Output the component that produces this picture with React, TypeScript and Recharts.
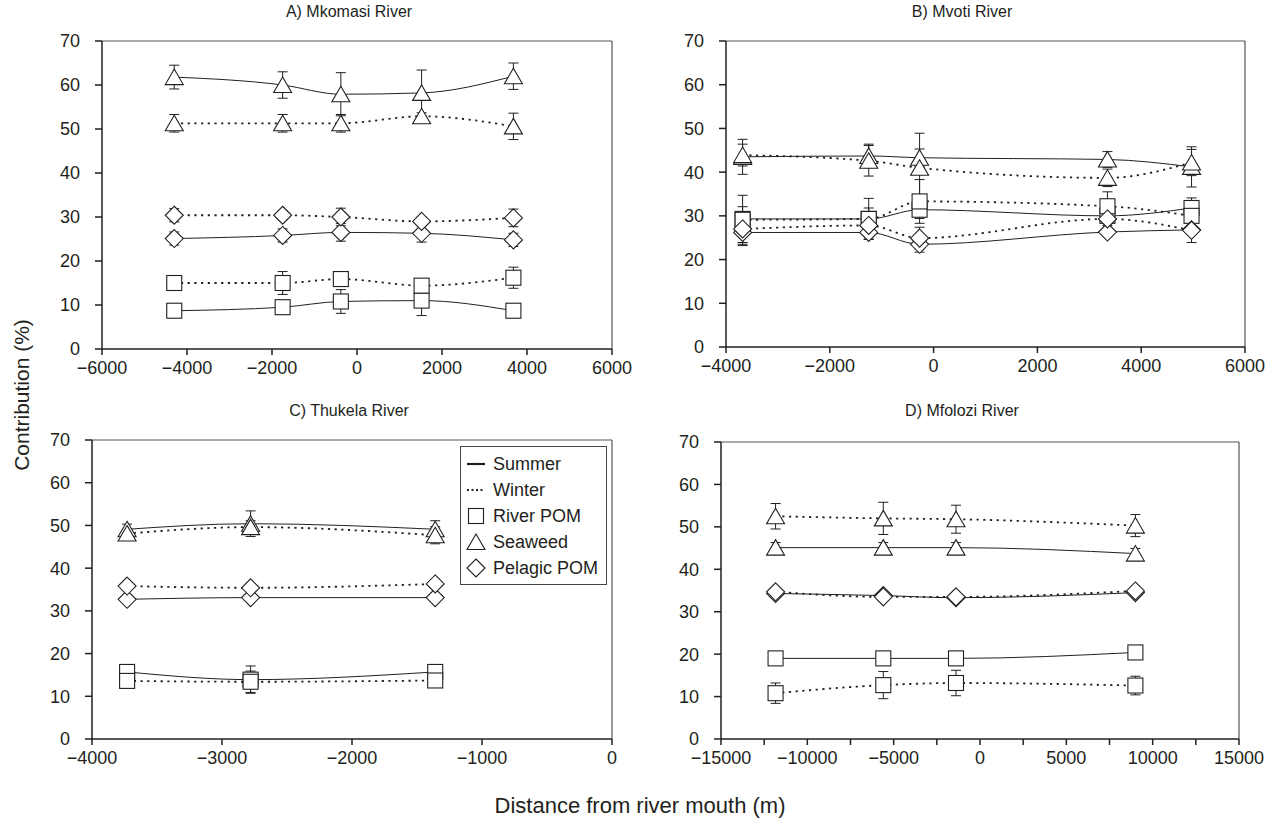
import React from 'react';
import { LineChart, Line, XAxis, YAxis, ErrorBar, ReferenceLine } from 'recharts';

const FONT = '"Liberation Sans", Arial, sans-serif';
const INK = '#231f20';

const yTicks = [0, 10, 20, 30, 40, 50, 60, 70];

// A) Mkomasi River
const mkDist = [-4300, -1750, -380, 1520, 3680];
const mkRiverSum = [8.7, 9.5, 10.8, 11.0, 8.7];
const mkRiverSumErr = [0.8, 1.0, 2.7, 3.4, 0.8];
const mkRiverWin = [15.0, 15.0, 15.9, 14.4, 16.2];
const mkRiverWinErr = [1.0, 2.6, 1.5, 1.5, 2.4];
const mkSeaSum = [61.8, 60.0, 57.9, 58.2, 62.0];
const mkSeaSumErr = [2.7, 3.0, 4.9, 5.2, 3.0];
const mkSeaWin = [51.3, 51.3, 51.3, 52.9, 50.6];
const mkSeaWinErr = [2.0, 2.0, 2.0, 0.8, 3.0];
const mkPelSum = [25.1, 25.8, 26.5, 26.3, 24.8];
const mkPelSumErr = [1.5, 1.5, 2.0, 2.0, 1.5];
const mkPelWin = [30.4, 30.4, 30.0, 29.0, 29.8];
const mkPelWinErr = [1.5, 1.0, 2.0, 1.0, 2.0];

// B) Mvoti River
const mvDist = [-3680, -1250, -270, 3350, 4970];
const mvRiverSum = [29.3, 29.3, 31.4, 30.0, 31.8];
const mvRiverSumErr = [5.4, 4.7, 2.0, 1.5, 2.3];
const mvRiverWin = [29.1, 29.3, 33.3, 32.2, 30.0];
const mvRiverWinErr = [3.0, 2.5, 5.0, 3.3, 3.0];
const mvSeaSum = [43.5, 43.7, 43.3, 42.9, 41.2];
const mvSeaSumErr = [4.0, 2.7, 2.0, 1.8, 4.6];
const mvSeaWin = [43.9, 42.6, 41.0, 38.7, 42.2];
const mvSeaWinErr = [2.5, 3.5, 7.9, 2.0, 3.0];
const mvPelSum = [26.2, 26.2, 23.5, 26.3, 26.8];
const mvPelSumErr = [3.0, 1.5, 1.8, 1.0, 1.0];
const mvPelWin = [27.0, 27.8, 24.9, 29.3, 26.7];
const mvPelWinErr = [3.5, 2.0, 2.5, 1.5, 2.8];

// C) Thukela River
const thDist = [-3730, -2780, -1360];
const thRiverSum = [15.7, 13.9, 15.7];
const thRiverSumErr = [0.8, 3.2, 0.8];
const thRiverWin = [13.6, 13.4, 13.7];
const thRiverWinErr = [0.8, 2.5, 0.8];
const thSeaSum = [49.1, 50.4, 49.1];
const thSeaSumErr = [1.2, 3.0, 2.0];
const thSeaWin = [48.1, 49.6, 47.7];
const thSeaWinErr = [1.0, 1.5, 2.0];
const thPelSum = [32.7, 33.1, 33.1];
const thPelSumErr = [0.8, 0.8, 0.8];
const thPelWin = [35.8, 35.4, 36.3];
const thPelWinErr = [0.8, 0.8, 0.8];

// D) Mfolozi River
const mfDist = [-11840, -5600, -1390, 9000];
const mfRiverSum = [19.0, 19.0, 19.0, 20.4];
const mfRiverSumErr = [0.8, 0.8, 0.8, 0.8];
const mfRiverWin = [10.8, 12.7, 13.2, 12.6];
const mfRiverWinErr = [2.4, 3.2, 3.0, 2.2];
const mfSeaSum = [45.1, 45.1, 45.1, 43.7];
const mfSeaSumErr = [1.2, 1.2, 1.2, 1.2];
const mfSeaWin = [52.5, 52.0, 51.8, 50.3];
const mfSeaWinErr = [3.0, 3.8, 3.3, 2.6];
const mfPelSum = [34.3, 33.8, 33.3, 34.5];
const mfPelSumErr = [0.8, 0.8, 0.8, 0.8];
const mfPelWin = [34.7, 33.5, 33.5, 34.9];
const mfPelWinErr = [0.8, 0.8, 0.8, 0.8];

type Kind = 'river' | 'seaweed' | 'pelagic';
type Series = { key: string; kind: Kind; winter: boolean; vals: number[]; errs: number[] };

const Marker = ({ kind, cx, cy }: { kind: Kind; cx: number; cy: number }) => {
  const common = { fill: '#fff', stroke: INK, strokeWidth: 1.1 };
  if (kind === 'river') return <rect x={cx - 7.5} y={cy - 7.5} width={15} height={15} {...common} />;
  if (kind === 'seaweed')
    return <path d={`M${cx},${cy - 8}L${cx + 9},${cy + 7.5}L${cx - 9},${cy + 7.5}Z`} {...common} />;
  return <path d={`M${cx},${cy - 9}L${cx + 9},${cy}L${cx},${cy + 9}L${cx - 9},${cy}Z`} {...common} />;
};

const fmt = (v: number) => (v < 0 ? `\u2212${Math.abs(v)}` : String(v));

type Rect = { l: number; t: number; r: number; b: number };

function Panel(props: {
  plot: Rect;
  dist: number[];
  domain: [number, number];
  xTicks: number[];
  labelStep: number;
  series: Series[];
}) {
  const { plot, dist, domain, xTicks, labelStep, series } = props;
  const yw = 70, mt = 10, mr = 35, xh = 40, mb = 5;
  const left = plot.l - yw;
  const top = plot.t - mt;
  const width = plot.r - left + mr;
  const height = plot.b - top + xh + mb;

  const rows = dist.map((d, i) => {
    const row: any = { x: d };
    series.forEach((s) => {
      row[s.key] = s.vals[i];
      row[s.key + 'E'] = s.errs[i];
    });
    return row;
  });

  const tickStyle = { fontSize: 18, fill: INK, fontFamily: FONT };

  return (
    <div style={{ position: 'absolute', left, top }}>
      <LineChart width={width} height={height} data={rows} margin={{ top: mt, right: mr, bottom: mb, left: 0 }}>
        <XAxis
          dataKey="x"
          type="number"
          domain={domain}
          ticks={xTicks}
          interval={0}
          height={xh}
          tickSize={6}
          tickMargin={6}
          stroke={INK}
          strokeWidth={1.5}
          tick={tickStyle}
          tickFormatter={(v: number) => (v % labelStep === 0 ? fmt(v) : '')}
        />
        <YAxis
          type="number"
          domain={[0, 70]}
          ticks={yTicks}
          interval={0}
          width={yw}
          tickSize={7}
          tickMargin={15}
          stroke={INK}
          strokeWidth={1.5}
          tick={tickStyle}
        />
        <ReferenceLine y={70} stroke="#555" strokeWidth={1} />
        <ReferenceLine x={domain[1]} stroke="#333" strokeWidth={1} />
        {series.map((s) => (
          <Line
            key={s.key}
            type="monotone"
            dataKey={s.key}
            stroke={INK}
            strokeWidth={s.winter ? 1.8 : 1}
            strokeDasharray={s.winter ? '2.2 4.5' : undefined}
            activeDot={false}
            isAnimationActive={false}
            dot={(p: any) => <Marker key={`${s.key}-${p.index}`} kind={s.kind} cx={p.cx} cy={p.cy} />}
          >
            <ErrorBar dataKey={s.key + 'E'} width={5} stroke={INK} strokeWidth={1} direction="y" />
          </Line>
        ))}
      </LineChart>
    </div>
  );
}

const mk = (
  rs: number[], rse: number[], rw: number[], rwe: number[],
  ss: number[], sse: number[], sw: number[], swe: number[],
  ps: number[], pse: number[], pw: number[], pwe: number[]
): Series[] => [
  { key: 'rs', kind: 'river', winter: false, vals: rs, errs: rse },
  { key: 'rw', kind: 'river', winter: true, vals: rw, errs: rwe },
  { key: 'ss', kind: 'seaweed', winter: false, vals: ss, errs: sse },
  { key: 'sw', kind: 'seaweed', winter: true, vals: sw, errs: swe },
  { key: 'ps', kind: 'pelagic', winter: false, vals: ps, errs: pse },
  { key: 'pw', kind: 'pelagic', winter: true, vals: pw, errs: pwe },
];

const Label = ({ x, y, text, size, rotate }: { x: number; y: number; text: string; size: number; rotate?: boolean }) => (
  <div
    style={{
      position: 'absolute',
      left: x,
      top: y,
      transform: `translate(-50%, -50%)${rotate ? ' rotate(-90deg)' : ''}`,
      whiteSpace: 'nowrap',
      fontFamily: FONT,
      fontSize: size,
      color: INK,
    }}
  >
    {text}
  </div>
);

const LegendBox = () => {
  const rows: { label: string; sym: 'solid' | 'dot' | Kind }[] = [
    { label: 'Summer', sym: 'solid' },
    { label: 'Winter', sym: 'dot' },
    { label: 'River POM', sym: 'river' },
    { label: 'Seaweed', sym: 'seaweed' },
    { label: 'Pelagic POM', sym: 'pelagic' },
  ];
  return (
    <div
      style={{
        position: 'absolute',
        left: 460,
        top: 446,
        width: 147,
        height: 139,
        border: '1.5px solid #444',
        background: '#fff',
        fontFamily: FONT,
        fontSize: 18,
        color: INK,
        padding: '4px 0 0 3px',
        boxSizing: 'border-box',
      }}
    >
      {rows.map((r) => (
        <div key={r.label} style={{ display: 'flex', alignItems: 'center', height: 26 }}>
          <svg width={24} height={22}>
            {r.sym === 'solid' && <line x1={3} x2={21} y1={11} y2={11} stroke={INK} strokeWidth={2.2} />}
            {r.sym === 'dot' && <line x1={3} x2={21} y1={11} y2={11} stroke={INK} strokeWidth={1.8} strokeDasharray="2 2.5" />}
            {(r.sym === 'river' || r.sym === 'seaweed' || r.sym === 'pelagic') && <Marker kind={r.sym} cx={12} cy={11} />}
          </svg>
          <span style={{ marginLeft: 5 }}>{r.label}</span>
        </div>
      ))}
    </div>
  );
};

export default function App() {
  return (
    <div style={{ position: 'absolute', left: 0, top: 0, width: 1277, height: 822, background: '#fff' }}>
      <Label x={349} y={12} text="A) Mkomasi River" size={16} />
      <Label x={962} y={12} text="B) Mvoti River" size={16} />
      <Label x={349} y={411} text="C) Thukela River" size={16} />
      <Label x={962} y={411} text="D) Mfolozi River" size={16} />
      <Label x={22} y={395} text="Contribution (%)" size={21} rotate />
      <Label x={640} y={806} text="Distance from river mouth (m)" size={22} />

      <Panel
        plot={{ l: 102, t: 41, r: 612, b: 349 }}
        dist={mkDist}
        domain={[-6000, 6000]}
        xTicks={[-6000, -4000, -2000, 0, 2000, 4000, 6000]}
        labelStep={2000}
        series={mk(mkRiverSum, mkRiverSumErr, mkRiverWin, mkRiverWinErr, mkSeaSum, mkSeaSumErr, mkSeaWin, mkSeaWinErr, mkPelSum, mkPelSumErr, mkPelWin, mkPelWinErr)}
      />
      <Panel
        plot={{ l: 726, t: 41, r: 1245, b: 347 }}
        dist={mvDist}
        domain={[-4000, 6000]}
        xTicks={[-4000, -2000, 0, 2000, 4000, 6000]}
        labelStep={2000}
        series={mk(mvRiverSum, mvRiverSumErr, mvRiverWin, mvRiverWinErr, mvSeaSum, mvSeaSumErr, mvSeaWin, mvSeaWinErr, mvPelSum, mvPelSumErr, mvPelWin, mvPelWinErr)}
      />
      <Panel
        plot={{ l: 92, t: 440, r: 612, b: 739 }}
        dist={thDist}
        domain={[-4000, 0]}
        xTicks={[-4000, -3000, -2000, -1000, 0]}
        labelStep={1000}
        series={mk(thRiverSum, thRiverSumErr, thRiverWin, thRiverWinErr, thSeaSum, thSeaSumErr, thSeaWin, thSeaWinErr, thPelSum, thPelSumErr, thPelWin, thPelWinErr)}
      />
      <Panel
        plot={{ l: 721, t: 442, r: 1239, b: 739 }}
        dist={mfDist}
        domain={[-15000, 15000]}
        xTicks={[-15000, -12500, -10000, -7500, -5000, -2500, 0, 2500, 5000, 7500, 10000, 12500, 15000]}
        labelStep={5000}
        series={mk(mfRiverSum, mfRiverSumErr, mfRiverWin, mfRiverWinErr, mfSeaSum, mfSeaSumErr, mfSeaWin, mfSeaWinErr, mfPelSum, mfPelSumErr, mfPelWin, mfPelWinErr)}
      />
      <LegendBox />
    </div>
  );
}
